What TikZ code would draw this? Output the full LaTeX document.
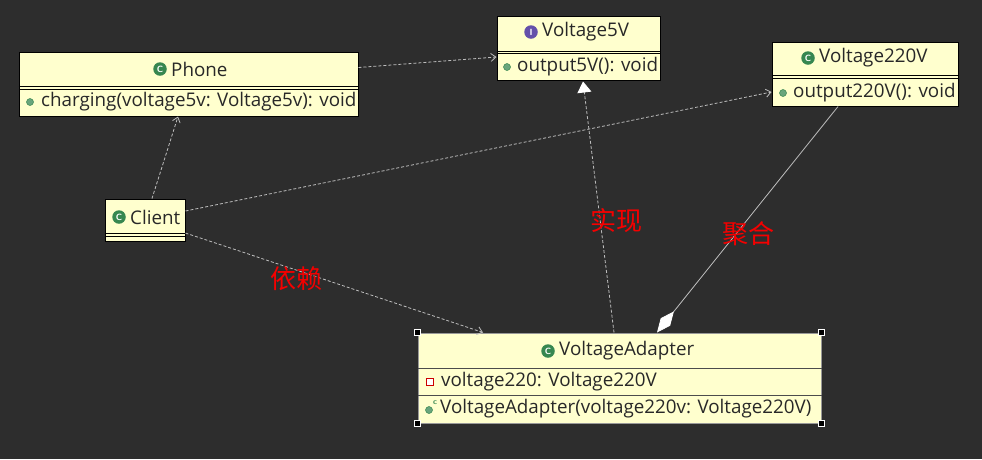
\documentclass[tikz,border=0pt]{standalone}
\usepackage{fontspec}
\setmainfont{Open Sans}
\newfontfamily\cjk{Noto Sans CJK SC}
\usetikzlibrary{arrows.meta,calc}
\definecolor{bg}{RGB}{45,45,45}
\definecolor{boxfill}{RGB}{255,255,206}
\definecolor{txt}{RGB}{40,40,40}
\definecolor{conn}{RGB}{190,190,190}
\definecolor{iconG}{RGB}{55,135,80}
\definecolor{iconP}{RGB}{100,80,170}
\definecolor{lbl}{RGB}{245,0,0}
\begin{document}
\begin{tikzpicture}[x=1pt,y=-1pt,
  umlbox/.style={draw=black, line width=1pt, fill=boxfill, inner sep=0pt, rectangle},
  txtlbl/.style={font=\fontsize{18.8}{20}\selectfont, text=txt, inner sep=0pt, anchor=west},
  cicon/.style={circle, fill=iconG, inner sep=0pt, minimum size=13.5pt, text=white, font=\sffamily\bfseries\fontsize{9}{9}\selectfont},
  iicon/.style={cicon, fill=iconP},
  pubdot/.style={circle, fill=iconG!75, draw=iconG, line width=0.5pt, inner sep=0pt, minimum size=7pt},
  privsq/.style={rectangle, draw=red!80!black, fill=white, line width=1.4pt, minimum size=6.5pt, inner sep=0pt},
  handle/.style={rectangle, fill=black, draw=white, line width=0.7pt, minimum size=6pt, inner sep=0pt},
  sep/.style={draw=black, line width=1pt},
  dep/.style={draw=conn, line width=0.8pt, dash pattern=on 3pt off 2pt, -{Straight Barb[length=5pt,width=8pt]}},
  real/.style={draw=conn, line width=0.8pt, dash pattern=on 3pt off 2pt, -{Triangle[length=11pt,width=14pt,color=white]}},
  agg/.style={draw=conn, line width=0.8pt, {Diamond[length=27pt,width=12pt,color=white]}-},
  note/.style={font=\cjk\fontsize{26}{28}\selectfont, text=lbl, inner sep=0pt}
]
\fill[bg] (0,0) rectangle (982,459);
\useasboundingbox (0,0) rectangle (982,459);

% boxes
\node[umlbox, minimum width=339pt, minimum height=64pt] (phone) at (188.5,84) {};
\node[umlbox, minimum width=163pt, minimum height=64pt] (v5) at (578.5,48) {};
\node[umlbox, minimum width=186pt, minimum height=64pt] (v220) at (865,74) {};
\node[umlbox, minimum width=80pt, minimum height=42pt] (client) at (145,220) {};
\node[umlbox, draw=gray!80, minimum width=403pt, minimum height=90pt] (adapter) at (619.5,378) {};

% separators
\draw[sep] ([yshift=-35pt]phone.north west) -- ([yshift=-35pt]phone.north east);
\draw[sep] ([yshift=-38pt]phone.north west) -- ([yshift=-38pt]phone.north east);
\draw[sep] ([yshift=-36pt]v5.north west) -- ([yshift=-36pt]v5.north east);
\draw[sep] ([yshift=-38pt]v5.north west) -- ([yshift=-38pt]v5.north east);
\draw[sep] ([yshift=-34pt]v220.north west) -- ([yshift=-34pt]v220.north east);
\draw[sep] ([yshift=-37pt]v220.north west) -- ([yshift=-37pt]v220.north east);
\draw[sep] ([yshift=-35pt]client.north west) -- ([yshift=-35pt]client.north east);
\draw[sep] ([yshift=-38pt]client.north west) -- ([yshift=-38pt]client.north east);
\draw[draw=gray!60!black, line width=1pt] ([yshift=-36pt]adapter.north west) -- ([yshift=-36pt]adapter.north east);
\draw[draw=gray!60!black, line width=1pt] ([yshift=-63pt]adapter.north west) -- ([yshift=-63pt]adapter.north east);

% handles
\node[handle] (h1) at (adapter.north west) {};
\node[handle] (h2) at (adapter.north east) {};
\node[handle] (h3) at (adapter.south west) {};
\node[handle] (h4) at (adapter.south east) {};

% titles
\node[cicon] (phoneI) at (160,69) {C};
\node[txtlbl] (phoneT) at (171,69) {Phone};
\node[pubdot] (phoneD) at (30,102) {};
\node[txtlbl] (phoneM) at (41,102) {charging(voltage5v: Voltage5v): void};

\node[iicon] (v5I) at (531,32) {I};
\node[txtlbl] (v5T) at (542,32) {Voltage5V};
\node[pubdot] (v5D) at (507,67) {};
\node[txtlbl] (v5M) at (517,67) {output5V(): void};

\node[cicon] (v220I) at (808,58) {C};
\node[txtlbl] (v220T) at (819,58) {Voltage220V};
\node[pubdot] (v220D) at (783,93) {};
\node[txtlbl] (v220M) at (793,93) {output220V(): void};

\node[cicon] (clientI) at (119,217) {C};
\node[txtlbl] (clientT) at (130,217) {Client};

\node[cicon] (adI) at (548,351) {C};
\node[txtlbl] (adT) at (559,351) {VoltageAdapter};
\node[privsq] (adF) at (430,382) {};
\node[txtlbl] (adA) at (441,382) {voltage220: Voltage220V};
\node[pubdot] (adC) at (429,410) {};
\node[font=\sffamily\bfseries\fontsize{8}{8}\selectfont, text=iconG, inner sep=0pt] (adCc) at (435,403) {c};
\node[txtlbl] (adM) at (440,409) {VoltageAdapter(voltage220v: Voltage220V)};

% connectors
\draw[dep] ([yshift=-16pt]phone.north east) -- ([yshift=-9pt]v5.west);
\draw[dep] ([xshift=7pt]client.north) -- ([xshift=-10.5pt]phone.south);
\draw[dep] ([yshift=9pt]client.east) -- ([yshift=-18pt]v220.west);
\draw[dep] ([yshift=-13pt]client.east) -- ([xshift=-136.5pt]adapter.north);
\draw[real] ([xshift=-5.5pt]adapter.north) -- ([xshift=4.5pt,yshift=-1pt]v5.south);
\draw[agg] ([xshift=37.5pt]adapter.north) -- ([xshift=-27pt]v220.south);

% labels
\node[note] (lblReal) at (616,221) {实现};
\node[note] (lblAgg) at (748,234) {聚合};
\node[note] (lblDep) at (296,279) {依赖};
\end{tikzpicture}
\end{document}
